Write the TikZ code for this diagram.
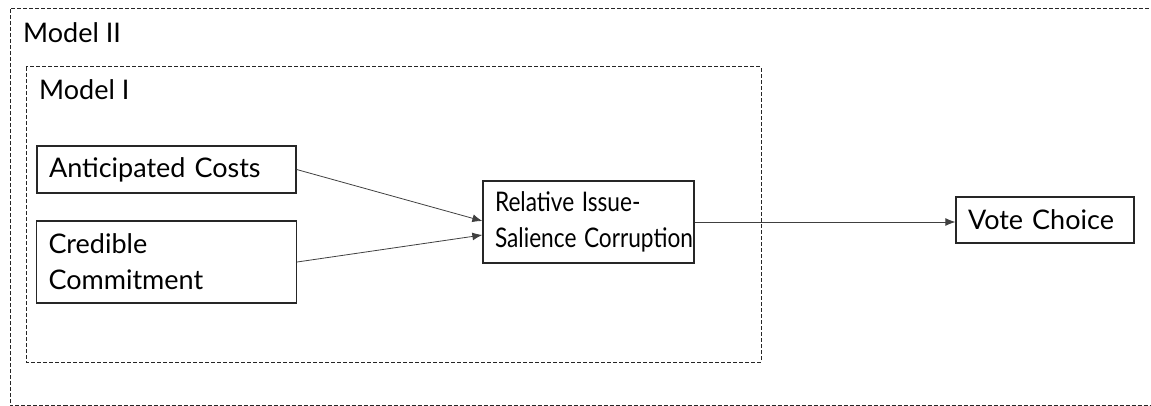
\documentclass[tikz,border=0pt]{standalone}
\usepackage{fontspec}
\setmainfont{Lato}
\usetikzlibrary{arrows.meta}
\newcommand{\diagfont}{\fontsize{27}{36}\selectfont\hyphenpenalty=10000 \exhyphenpenalty=10000 \relax}
\newcommand{\narrow}[1]{\scalebox{0.84}[1]{#1}}
\begin{document}
\begin{tikzpicture}[x=1pt,y=-1pt,
  every node/.style={font=\diagfont},
  box/.style={draw=black!85, line width=1.3pt, inner xsep=12pt, inner ysep=0pt, align=left, anchor=center},
  grp/.style={draw=black!85, line width=1pt, dash pattern=on 4pt off 2pt},
  conn/.style={draw=black!75, line width=0.8pt, -{Latex[length=10pt,width=8pt]}},
  lbl/.style={anchor=base west, inner sep=0pt}]
\useasboundingbox (0,0) rectangle (1151,406);
\clip (0,0) rectangle (1151,406);
\draw[grp] (10,9) rectangle (1170,405.5);
\draw[grp] (26,67) rectangle (761,362);
\node[lbl] (m2) at (23,43) {Model II};
\node[lbl] (m1) at (39,100) {Model I};
\node[box, minimum width=259pt, minimum height=47pt, text width=235pt] (ac) at (166.5,169.5) {Anticipated Costs};
\node[box, minimum width=260pt, minimum height=82pt, text width=236pt] (cc) at (166.5,262) {Credible\\Commitment};
\node[box, minimum width=211pt, minimum height=82pt, text width=187pt] (rel) at (588.5,222) {\narrow{Relative Issue-}\\\narrow{Salience Corruption}};
\node[box, minimum width=178pt, minimum height=46pt, text width=154pt] (vc) at (1045,220) {Vote Choice};
\draw[conn] (ac.east) -- ([yshift=1pt]rel.west);
\draw[conn] (cc.east) -- ([yshift=-13pt]rel.west);
\draw[conn] (rel.east) -- (vc.west |- rel.east);
\end{tikzpicture}
\end{document}
